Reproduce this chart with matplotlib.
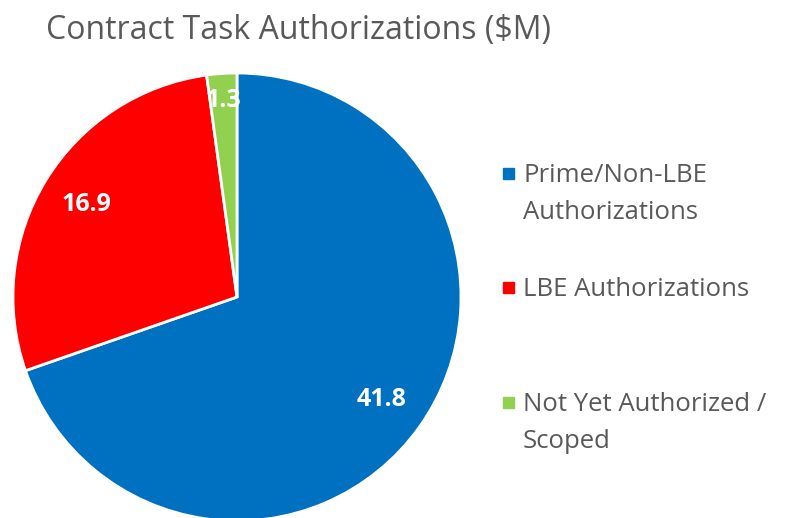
import matplotlib
matplotlib.use("Agg")
import matplotlib.pyplot as plt
import numpy as np

title = "Contract Task Authorizations ($M)"
categories = ["Prime/Non-LBE\nAuthorizations", "LBE Authorizations", "Not Yet Authorized /\nScoped"]
values = [41.8, 16.9, 1.3]
colors = ["#0070C0", "#FF0000", "#92D050"]
value_labels = ["41.8", "16.9", "1.3"]

plt.rcParams['font.family'] = ['Open Sans', 'DejaVu Sans']

W, H = 793, 518
fig = plt.figure(figsize=(W/100, H/100), dpi=100)

cx, cy, r = 237, 297, 224
ax = fig.add_axes([(cx - r)/W, (H - cy - r)/H, 2*r/W, 2*r/H])
wedges, _ = ax.pie(values, colors=colors, startangle=90, counterclock=False,
                   wedgeprops=dict(edgecolor="white", linewidth=2), radius=1)
ax.set_xlim(-1, 1)
ax.set_ylim(-1, 1)
ax.set_aspect('auto')
ax.axis('off')

dists = [0.79, 0.79, 0.88]
for w, lab, d in zip(wedges, value_labels, dists):
    ang = np.deg2rad((w.theta1 + w.theta2) / 2)
    ax.text(d*np.cos(ang), d*np.sin(ang), lab, color="white", fontsize=18,
            fontweight="bold", ha="center", va="center")

fig.text(298/W, 1 - 31/H, title, ha="center", va="center", fontsize=23, color="#595959")

ys = [173, 287, 402]
for cat, col, y in zip(categories, colors, ys):
    fig.patches.append(plt.Rectangle((503/W, 1 - (y + 6)/H), 11/W, 11/H,
                                     transform=fig.transFigure, color=col))
    fig.text(523/W, 1 - (y - 10)/H, cat, ha="left", va="top", fontsize=18.5,
             color="#595959", linespacing=1.65)

fig.savefig("out.png", dpi=100)
